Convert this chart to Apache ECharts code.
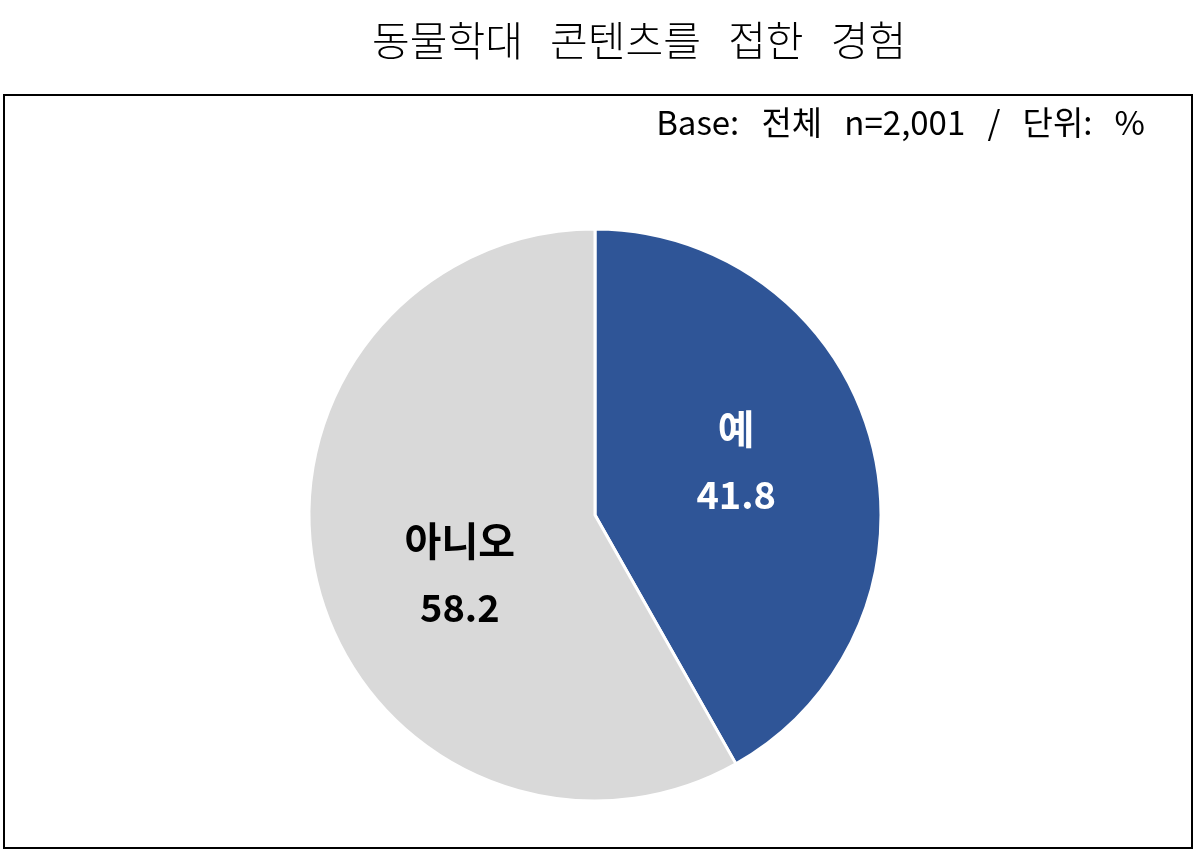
<!DOCTYPE html>
<html>
<head>
<meta charset="utf-8">
<script src="https://cdn.jsdelivr.net/npm/echarts@6/dist/echarts.min.js"></script>
<style>
html,body{margin:0;padding:0;background:#fff;}
#chart{width:1200px;height:854px;}
</style>
</head>
<body>
<div id="chart"></div>
<script>
const titleText = '동물학대   콘텐츠를   접한   경험';
const baseText = 'Base:   전체   n=2,001   /   단위:   %';
const categories = ['예', '아니오'];
const values = [41.8, 58.2];
const colors = ['#2F5597', '#D9D9D9'];
const labelColors = ['#FFFFFF', '#000000'];
const labelOffsets = [[0, -16], [6, 22]];

const chart = echarts.init(document.getElementById('chart'), null, {renderer: 'canvas'});
const font = '"Noto Sans CJK KR", "Noto Sans", sans-serif';

chart.setOption({
  backgroundColor: '#fff',
  animation: false,
  title: [
    {text: titleText, left: 367, top: 15,
     textStyle: {fontFamily: font, fontSize: 41, fontWeight: 300, color: '#000'}},
    {text: baseText, right: 50, top: 101,
     textStyle: {fontFamily: font, fontSize: 33, fontWeight: 400, color: '#000'}}
  ],
  graphic: [{
    type: 'rect', shape: {x: 4, y: 95, width: 1188, height: 753},
    style: {fill: 'none', stroke: '#000', lineWidth: 2}, z: -1
  }],
  series: [{
    type: 'pie',
    center: [595, 515],
    radius: [0, 286],
    startAngle: 90,
    clockwise: true,
    itemStyle: {borderColor: '#fff', borderWidth: 3},
    label: {
      show: true, position: 'inside',
      fontFamily: font, fontWeight: 'bold',
      formatter: p => '{n|' + p.name + '}\n{v|' + p.value.toFixed(1) + '}',
      rich: {
        n: {fontFamily: font, fontSize: 40, fontWeight: 'bold', lineHeight: 66},
        v: {fontFamily: font, fontSize: 38, fontWeight: 'bold', lineHeight: 66}
      }
    },
    labelLine: {show: false},
    emphasis: {disabled: true},
    data: categories.map((c, i) => ({
      name: c, value: values[i],
      itemStyle: {color: colors[i]},
      label: {color: labelColors[i], offset: labelOffsets[i],
        rich: {n: {color: labelColors[i]}, v: {color: labelColors[i]}}}
    }))
  }]
});
</script>
</body>
</html>
